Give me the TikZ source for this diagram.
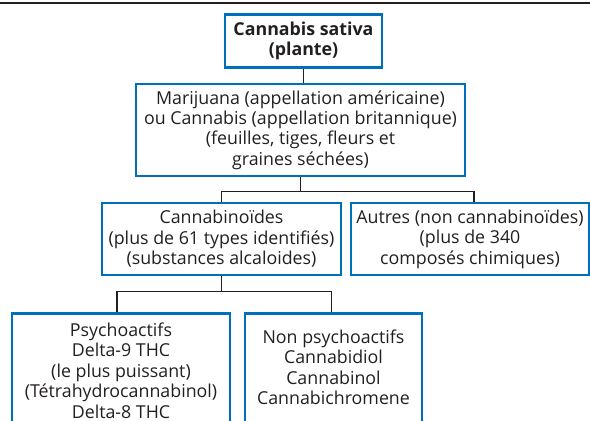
\documentclass[tikz,border=0pt]{standalone}
\usepackage{fontspec}
\setmainfont{Open Sans}
\usepackage{tikz}
\usetikzlibrary{positioning}
\definecolor{bleu}{RGB}{0,112,186}
\definecolor{encre}{RGB}{35,31,32}

\begin{document}
\begin{tikzpicture}[x=1pt,y=-1pt,
  line join=miter,
  box/.style={draw=bleu,line width=2.6pt,align=center,inner sep=0pt,text=encre},
  basbox/.style={box,anchor=north,inner ysep=9.5pt,text depth=110pt},
  lien/.style={line width=1.6pt,draw=encre},
  font=\fontsize{17.8}{20.4}\selectfont]
  \useasboundingbox (0,0) rectangle (590,421);
  \clip (0,0) rectangle (590,421);
  \draw[lien] (0,3) -- (590,3);

  \node[box,minimum width=157pt,minimum height=53pt,font=\fontsize{17.8}{20}\selectfont\bfseries] (plante) at (303.5,41) {Cannabis sativa\\(plante)};
  \node[box,minimum width=329pt,minimum height=92pt] (marij) at (300.5,130) {Marijuana (appellation américaine)\\ou Cannabis (appellation britannique)\\(feuilles, tiges, fleurs et\\graines séchées)};
  \node[box,minimum width=239pt,minimum height=72pt] (canna) at (221.5,239) {Cannabinoïdes\\(plus de 61 types identifiés)\\(substances alcaloides)};
  \node[box,minimum width=238pt,minimum height=72pt] (autres) at (470,239) {Autres (non cannabinoïdes)\\(plus de 340\\composés chimiques)};
  \node[basbox,minimum width=218pt] (psycho) at (121,312) {Psychoactifs\\Delta-9 THC\\(le plus puissant)\\(Tétrahydrocannabinol)\\Delta-8 THC};
  \node[basbox,minimum width=177pt,inner ysep=16.5pt] (nonpsy) at (333.5,312) {Non psychoactifs\\Cannabidiol\\Cannabinol\\Cannabichromene};

  % liaisons
  \draw[lien] (plante.south) -- (plante.south |- marij.north);
  \draw[lien] (marij.south) -- ++(0,14) coordinate (j1);
  \draw[lien] (canna.north) |- (j1) -| ([xshift=4pt]autres.north);
  \draw[lien] (canna.south) -- ++(0,15) coordinate (j2);
  \draw[lien] ([xshift=-4pt]psycho.north) |- (j2) -| ([xshift=-2pt]nonpsy.north);
\end{tikzpicture}
\end{document}
